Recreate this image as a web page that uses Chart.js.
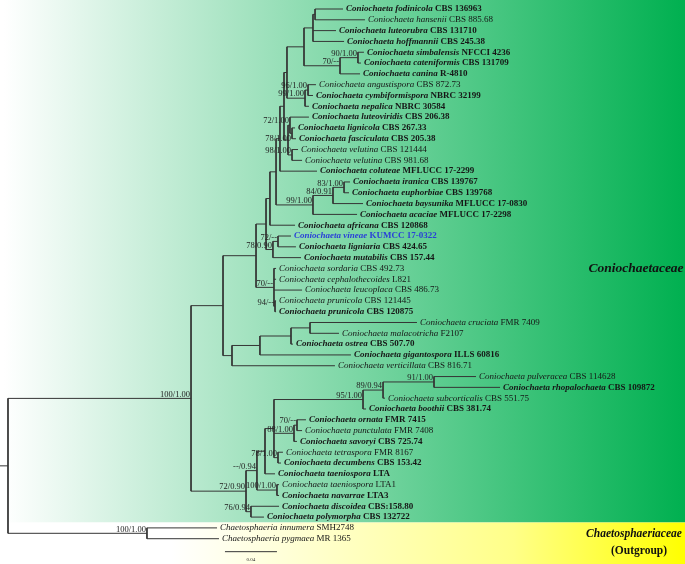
<!DOCTYPE html>
<html>
<head>
    <title>Coniochaetaceae tree</title>
    <script src="https://cdn.jsdelivr.net/npm/chart.js"></script>
    <style>
        body { margin: 0; background: #fff; }
        #wrap { position: relative; width: 685px; height: 564px; }
    </style>
</head>
<body>
<div id="wrap"><canvas id="treeChart"></canvas></div>
<script>
// tips, top to bottom (row = index)
const taxa = [
    'Coniochaeta fodinicola', 'Coniochaeta hansenii', 'Coniochaeta luteorubra', 'Coniochaeta hoffmannii',
    'Coniochaeta simbalensis', 'Coniochaeta cateniformis', 'Coniochaeta canina', 'Coniochaeta angustispora',
    'Coniochaeta cymbiformispora', 'Coniochaeta nepalica', 'Coniochaeta luteoviridis', 'Coniochaeta lignicola',
    'Coniochaeta fasciculata', 'Coniochaeta velutina', 'Coniochaeta velutina', 'Coniochaeta coluteae',
    'Coniochaeta iranica', 'Coniochaeta euphorbiae', 'Coniochaeta baysunika', 'Coniochaeta acaciae',
    'Coniochaeta africana', 'Coniochaeta vineae', 'Coniochaeta ligniaria', 'Coniochaeta mutabilis',
    'Coniochaeta sordaria', 'Coniochaeta cephalothecoides', 'Coniochaeta leucoplaca', 'Coniochaeta prunicola',
    'Coniochaeta prunicola', 'Coniochaeta cruciata', 'Coniochaeta malacotricha', 'Coniochaeta ostrea',
    'Coniochaeta gigantospora', 'Coniochaeta verticillata', 'Coniochaeta pulveracea', 'Coniochaeta rhopalochaeta',
    'Coniochaeta subcorticalis', 'Coniochaeta boothii', 'Coniochaeta ornata', 'Coniochaeta punctulata',
    'Coniochaeta savoryi', 'Coniochaeta tetraspora', 'Coniochaeta decumbens', 'Coniochaeta taeniospora',
    'Coniochaeta taeniospora', 'Coniochaeta navarrae', 'Coniochaeta discoidea', 'Coniochaeta polymorpha',
    'Chaetosphaeria innumera', 'Chaetosphaeria pygmaea'
];
const strains = [
    'CBS 136963', 'CBS 885.68', 'CBS 131710', 'CBS 245.38', 'NFCCI 4236', 'CBS 131709', 'R-4810', 'CBS 872.73',
    'NBRC 32199', 'NBRC 30584', 'CBS 206.38', 'CBS 267.33', 'CBS 205.38', 'CBS 121444', 'CBS 981.68', 'MFLUCC 17-2299',
    'CBS 139767', 'CBS 139768', 'MFLUCC 17-0830', 'MFLUCC 17-2298', 'CBS 120868', 'KUMCC 17-0322', 'CBS 424.65', 'CBS 157.44',
    'CBS 492.73', 'L821', 'CBS 486.73', 'CBS 121445', 'CBS 120875', 'FMR 7409', 'F2107', 'CBS 507.70',
    'ILLS 60816', 'CBS 816.71', 'CBS 114628', 'CBS 109872', 'CBS 551.75', 'CBS 381.74', 'FMR 7415', 'FMR 7408',
    'CBS 725.74', 'FMR 8167', 'CBS 153.42', 'LTA', 'LTA1', 'LTA3', 'CBS:158.80', 'CBS 132722',
    'SMH2748', 'MR 1365'
];
// 1 = type / bold strain, 2 = new species (blue)
const tipStyle = [
    1, 0, 1, 1, 1, 1, 1, 0, 1, 1, 1, 1, 1, 0, 0, 1,
    1, 1, 1, 1, 1, 2, 1, 1, 0, 0, 0, 0, 1, 0, 0, 1,
    1, 0, 0, 1, 0, 1, 1, 0, 1, 0, 1, 1, 0, 1, 1, 1,
    0, 0
];
const tipParent = [
    'n4', 'n4', 'n2', 'n2', 'n5', 'n5', 'n3', 'n6', 'n6', 'n7', 'n9', 'n8', 'n8', 'n10', 'n10', 'A3',
    'n83', 'n83', 'n84', 'BC', 'A5', 'X', 'X', 'W', 'U', 'U', 'U', 'V', 'V', 'S', 'S', 'R',
    'Q', 'G1', 'n91', 'n91', 'n89', 'M1', 'O1', 'O1', 'O2', 'O3', 'O3', 'O5', 'T3', 'T3', 'D', 'D',
    'out', 'out'
];
// distance from root (substitutions per site)
const tipDepth = [
    0.2577, 0.2746, 0.2523, 0.2585, 0.2738, 0.2715, 0.2708, 0.2369,
    0.2346, 0.2315, 0.2315, 0.2208, 0.2215, 0.2231, 0.2262, 0.2377,
    0.2631, 0.2623, 0.2731, 0.2685, 0.2208, 0.2177, 0.2215, 0.2254,
    0.2062, 0.2062, 0.2262, 0.2062, 0.2062, 0.3146, 0.2546, 0.2192,
    0.2638, 0.2515, 0.3600, 0.3785, 0.2900, 0.2754, 0.2292, 0.2262,
    0.2223, 0.2115, 0.2100, 0.2054, 0.2085, 0.2085, 0.2085, 0.1969,
    0.1608, 0.1623
];

// internal nodes
const nodeNames = [
    'stem', 'root', 'out', 'crown', 'P', 'G1', 'Q', 'R', 'S', 'T', 'U', 'V', 'Y', 'W', 'X', 'A5',
    'A4', 'BC', 'n84', 'n83', 'A3', 'A2', 'A0', 'n1', 'n2', 'n4', 'n3', 'n5', 'n7', 'n6', 'n11', 'n9',
    'n8', 'n10', 'L', 'N', 'O5', 'O4', 'M1', 'n89', 'n91', 'O2', 'O1', 'O3', 'T3', 'D'
];
const nodeParent = [
    null, 'stem', 'root', 'root', 'crown', 'P', 'G1', 'Q', 'R', 'P', 'T', 'U', 'T', 'Y', 'W', 'Y',
    'A5', 'A4', 'BC', 'n84', 'A4', 'A3', 'A2', 'A0', 'n1', 'n2', 'n1', 'n3', 'A0', 'n7', 'A2', 'n11',
    'n9', 'n11', 'crown', 'L', 'N', 'O5', 'O4', 'M1', 'n89', 'O4', 'O2', 'O4', 'N', 'L'
];
const nodeDepth = [
    -0.0062, 0, 0.1069, 0.1408, 0.1654, 0.1723, 0.1938, 0.2177, 0.2323, 0.1908, 0.2046, 0.2054, 0.1985, 0.2038, 0.2077, 0.2015,
    0.2062, 0.2346, 0.2500, 0.2585, 0.2092, 0.2123, 0.2146, 0.2277, 0.2346, 0.2362, 0.2554, 0.2692, 0.2285, 0.2308, 0.2154, 0.2169,
    0.2185, 0.2185, 0.1831, 0.1915, 0.1977, 0.2046, 0.2731, 0.2885, 0.3277, 0.2200, 0.2223, 0.2077, 0.2069, 0.1869
];
// ML bootstrap / Bayesian posterior
const nodeSupport = [
    '', '', '100/1.00', '100/1.00', '', '', '', '', '', '', '70/--', '94/--', '', '78/0.90', '72/--', '',
    '', '99/1.00', '84/0.91', '83/1.00', '', '', '', '', '', '', '70/--', '90/1.00', '99/1.00', '96/1.00', '', '72/1.00',
    '78/1.00', '98/1.00', '72/0.90', '--/0.94', '', '', '95/1.00', '89/0.94', '91/1.00', '88/1.00', '70/--', '78/1.00', '100/1.00', '76/0.94'
];

const scaleBarStart = 0.1669;
const scaleBarLength = 0.04;

// ---- build branches from the arrays ----
const nodeRow = {};
const childRows = {};
nodeNames.forEach(n => childRows[n] = []);
tipParent.forEach((p, i) => childRows[p].push({ kind: 'tip', id: i }));
nodeParent.forEach((p, i) => { if (p) childRows[p].push({ kind: 'node', id: nodeNames[i] }); });

function rowOf(item) {
    if (item.kind === 'tip') return item.id;
    const name = item.id;
    if (nodeRow[name] === undefined) {
        const rows = childRows[name].map(rowOf);
        nodeRow[name] = (Math.min(...rows) + Math.max(...rows)) / 2;
    }
    return nodeRow[name];
}
rowOf({ kind: 'node', id: 'stem' });

const depthOf = {};
nodeNames.forEach((n, i) => depthOf[n] = nodeDepth[i]);

const branches = [];
function seg(x1, y1, x2, y2) {
    branches.push({ x: x1, y: y1 }, { x: x2, y: y2 }, { x: x2, y: null });
}
nodeNames.forEach((n, i) => {
    const rows = childRows[n].map(rowOf);
    seg(nodeDepth[i], Math.min(...rows), nodeDepth[i], Math.max(...rows));
    if (nodeParent[i]) seg(depthOf[nodeParent[i]], nodeRow[n], nodeDepth[i], nodeRow[n]);
});
tipParent.forEach((p, i) => seg(depthOf[p], i, tipDepth[i], i));

const serif = '"Liberation Serif", "Times New Roman", serif';

const bgPlugin = {
    id: 'bg',
    beforeDraw(chart) {
        const { ctx, width, height } = chart;
        const split = chart.scales.y.getPixelForValue(47.5);
        let g = ctx.createLinearGradient(4, 0, width, 0);
        g.addColorStop(0, '#ffffff');
        g.addColorStop(1, '#00b050');
        ctx.save();
        ctx.fillStyle = g;
        ctx.fillRect(0, 0, width, split);
        g = ctx.createLinearGradient(0, 0, width, 0);
        g.addColorStop(0, '#ffffff');
        g.addColorStop(0.25, '#ffffff');
        g.addColorStop(0.75, '#ffff88');
        g.addColorStop(1, '#ffff00');
        ctx.fillStyle = g;
        ctx.fillRect(0, split, width, height - split);
        ctx.restore();
    }
};

const labelPlugin = {
    id: 'labels',
    afterDatasetsDraw(chart) {
        const { ctx } = chart;
        const xs = chart.scales.x, ys = chart.scales.y;
        ctx.save();
        ctx.textBaseline = 'middle';

        // tip names
        taxa.forEach((name, i) => {
            let x = xs.getPixelForValue(tipDepth[i]) + 3;
            const y = ys.getPixelForValue(i);
            const bold = tipStyle[i] > 0;
            ctx.fillStyle = tipStyle[i] === 2 ? '#2a3fd8' : '#161616';
            ctx.textAlign = 'left';
            ctx.font = (bold ? 'bold italic ' : 'italic ') + '9px ' + serif;
            ctx.fillText(name, x, y);
            x += ctx.measureText(name + ' ').width;
            ctx.font = (bold ? 'bold ' : '') + '9px ' + serif;
            ctx.fillText(strains[i], x, y);
        });

        // support values
        ctx.fillStyle = '#222';
        ctx.textAlign = 'right';
        ctx.font = '8.5px ' + serif;
        nodeNames.forEach((n, i) => {
            if (!nodeSupport[i]) return;
            let dy = -4;
            if (n === 'n8') dy = 5;
            ctx.fillText(nodeSupport[i], xs.getPixelForValue(nodeDepth[i]) - 1, ys.getPixelForValue(nodeRow[n]) + dy);
        });

        // scale bar text
        ctx.textAlign = 'center';
        ctx.font = '5px ' + serif;
        ctx.fillText(String(scaleBarLength), xs.getPixelForValue(scaleBarStart + scaleBarLength / 2), ys.getPixelForValue(50.2) + 8);

        // family names
        ctx.fillStyle = '#111';
        ctx.textAlign = 'center';
        ctx.font = 'bold italic 13.5px ' + serif;
        ctx.fillText('Coniochaetaceae', 636, ys.getPixelForValue(24));
        ctx.font = 'bold italic 11.5px ' + serif;
        ctx.fillText('Chaetosphaeriaceae', 634, ys.getPixelForValue(48.6));
        ctx.font = 'bold 11.5px ' + serif;
        ctx.fillText('(Outgroup)', 639, ys.getPixelForValue(50.1));
        ctx.restore();
    }
};

new Chart(document.getElementById('treeChart'), {
    type: 'scatter',
    data: {
        datasets: [{
            data: branches,
            showLine: true,
            spanGaps: false,
            borderColor: '#353535',
            borderWidth: 1,
            pointRadius: 0
        }, {
            data: [{ x: scaleBarStart, y: 50.2 }, { x: scaleBarStart + scaleBarLength, y: 50.2 }],
            showLine: true,
            borderColor: '#353535',
            borderWidth: 1,
            pointRadius: 0
        }]
    },
    options: {
        responsive: true,
        maintainAspectRatio: false,
        animation: false,
        layout: { padding: 0 },
        plugins: { legend: { display: false }, tooltip: { enabled: false } },
        scales: {
            x: { type: 'linear', display: false, min: -0.00615, max: 0.52077 },
            y: { type: 'linear', display: false, min: -0.8326, max: 51.34, reverse: true }
        }
    },
    plugins: [bgPlugin, labelPlugin]
});
</script>
</body>
</html>
